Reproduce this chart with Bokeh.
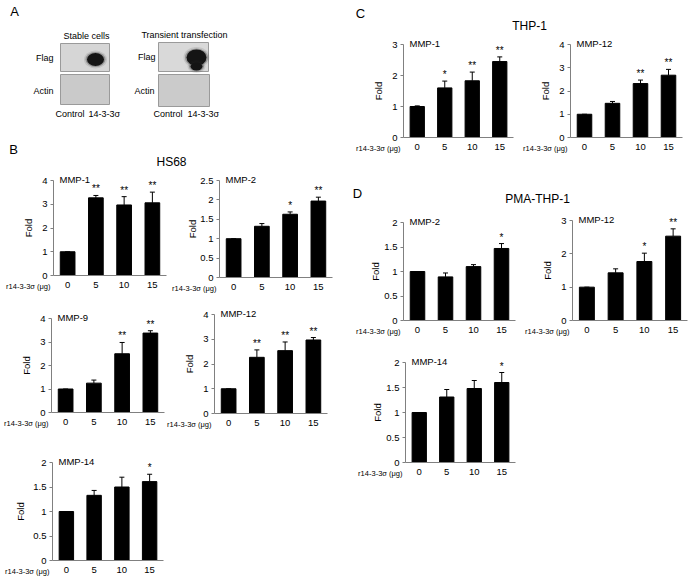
from bokeh.plotting import figure
from bokeh.layouts import row, column
from bokeh.models import Range1d, FixedTicker, CustomJSTickFormatter
from bokeh.core.properties import value
from bokeh.embed import file_html
from bokeh.resources import INLINE

FONT = "Liberation Sans"
AXIS_COLOR = "#808080"

# ---------------- data ----------------
DOSES = ["0", "5", "10", "15"]
X_TITLE = "r14-3-3σ (μg)"
Y_TITLE = "Fold"

# Panel B: HS68
hs68_mmp1 = [1.0, 3.27, 2.97, 3.06]
hs68_mmp1_err = [0.0, 0.10, 0.35, 0.45]
hs68_mmp1_sig = ["", "**", "**", "**"]

hs68_mmp2 = [1.0, 1.32, 1.63, 1.97]
hs68_mmp2_err = [0.0, 0.07, 0.06, 0.10]
hs68_mmp2_sig = ["", "", "*", "**"]

hs68_mmp9 = [1.0, 1.25, 2.50, 3.38]
hs68_mmp9_err = [0.0, 0.13, 0.48, 0.10]
hs68_mmp9_sig = ["", "", "**", "**"]

hs68_mmp12 = [1.0, 2.27, 2.54, 2.97]
hs68_mmp12_err = [0.0, 0.30, 0.35, 0.10]
hs68_mmp12_sig = ["", "**", "**", "**"]

hs68_mmp14 = [1.0, 1.33, 1.50, 1.61]
hs68_mmp14_err = [0.0, 0.10, 0.20, 0.15]
hs68_mmp14_sig = ["", "", "", "*"]

# Panel C: THP-1
thp1_mmp1 = [1.0, 1.60, 1.83, 2.45]
thp1_mmp1_err = [0.02, 0.22, 0.28, 0.15]
thp1_mmp1_sig = ["", "*", "**", "**"]

thp1_mmp12 = [1.0, 1.47, 2.32, 2.68]
thp1_mmp12_err = [0.0, 0.08, 0.15, 0.25]
thp1_mmp12_sig = ["", "", "**", "**"]

# Panel D: PMA-THP-1
pma_mmp2 = [1.0, 0.89, 1.10, 1.47]
pma_mmp2_err = [0.0, 0.08, 0.04, 0.10]
pma_mmp2_sig = ["", "", "", "*"]

pma_mmp12 = [1.0, 1.43, 1.77, 2.53]
pma_mmp12_err = [0.0, 0.12, 0.25, 0.22]
pma_mmp12_sig = ["", "", "*", "**"]

pma_mmp14 = [1.0, 1.31, 1.48, 1.60]
pma_mmp14_err = [0.0, 0.15, 0.16, 0.20]
pma_mmp14_sig = ["", "", "", "*"]


# ---------------- helpers ----------------
def chart(title, vals, errs, sig, ymax, ystep, w, h, L, R, T, B, fold_standoff=5):
    """w,h: canvas size; L: px from left edge to y-axis; R: px from x-axis end to right edge;
    T: px from top edge to ymax; B: px from y=0 to bottom edge."""
    n = len(DOSES)
    xs = [i + 1 for i in range(n)]
    sx = (w - L - R) / n
    sy = (h - T - B) / ymax
    p = figure(x_range=Range1d(0.5 - L / sx, n + 0.5 + R / sx),
               y_range=Range1d(-B / sy, ymax + T / sy),
               width=w, height=h, output_backend="svg", toolbar_location=None,
               min_border=0)
    p.outline_line_color = None
    p.grid.visible = False
    p.background_fill_color = "white"
    p.border_fill_color = "white"

    p.vbar(x=xs, top=vals, width=0.52, fill_color="black", line_color="black")
    tops = [v + e for v, e in zip(vals, errs)]
    p.segment(x0=xs, y0=vals, x1=xs, y1=tops, line_color="black", line_width=1)
    p.scatter(x=xs, y=tops, marker="dash", size=5, line_color="black", line_width=1)
    p.text(x=xs, y=tops, text=sig, text_align="center", text_baseline="bottom",
           text_font=value(FONT), text_font_size=value("10px"), y_offset=-1,
           text_color="black")

    yax = p.yaxis[0]
    k = int(round(ymax / ystep))
    yax.fixed_location = 0.5
    yax.bounds = (0, ymax)
    yax.ticker = FixedTicker(ticks=[i * ystep for i in range(k + 1)], minor_ticks=[])
    yax.formatter = CustomJSTickFormatter(code="return String(Math.round(tick*10)/10);")
    yax.axis_line_color = AXIS_COLOR
    yax.major_tick_line_color = AXIS_COLOR
    yax.major_tick_out = 3
    yax.major_tick_in = 0
    yax.minor_tick_line_color = None
    yax.major_label_text_font = FONT
    yax.major_label_text_font_size = "9.5px"
    yax.major_label_text_color = "black"
    yax.major_label_standoff = 3
    yax.axis_label = Y_TITLE
    yax.axis_label_text_font = FONT
    yax.axis_label_text_font_size = "9.5px"
    yax.axis_label_text_font_style = "normal"
    yax.axis_label_text_color = "black"
    yax.axis_label_standoff = fold_standoff

    xax = p.xaxis[0]
    xax.fixed_location = 0
    xax.bounds = (0.5, n + 0.5)
    xax.ticker = FixedTicker(ticks=xs, minor_ticks=[])
    xax.major_label_overrides = {x: d for x, d in zip(xs, DOSES)}
    xax.axis_line_color = AXIS_COLOR
    xax.major_tick_line_color = None
    xax.major_tick_out = 0
    xax.major_tick_in = 0
    xax.minor_tick_line_color = None
    xax.major_label_text_font = FONT
    xax.major_label_text_font_size = "9.5px"
    xax.major_label_text_color = "black"
    xax.major_label_standoff = 6

    # x-title left of the y-axis, on the level of the dose labels
    p.text(x=[0.5], y=[0], text=[X_TITLE], x_offset=-3, y_offset=11,
           text_align="right", text_baseline="middle",
           text_font=value(FONT), text_font_size=value("7.5px"), text_color="black")
    # chart title at the top of the y-axis
    p.text(x=[0.5], y=[ymax], text=[title], x_offset=6, y_offset=-1,
           text_align="left", text_baseline="middle",
           text_font=value(FONT), text_font_size=value("9.5px"), text_color="black")
    return p


def canvas(x0, x1, y0, y1):
    p = figure(x_range=Range1d(x0, x1), y_range=Range1d(y1, y0),
               width=x1 - x0, height=y1 - y0, output_backend="svg",
               toolbar_location=None, x_axis_type=None, y_axis_type=None,
               min_border=0)
    p.outline_line_color = None
    p.grid.visible = False
    return p


def txt(p, x, y, s, size, align="left"):
    p.text(x=[x], y=[y], text=[s], text_font=value(FONT), text_font_size=value(size),
           text_align=align, text_baseline="middle", text_color="black")


# ---------------- panel A (blots) + B header ----------------
pa = canvas(0, 340, 0, 168)
txt(pa, 14, 11, "A", "13px", "center")
txt(pa, 86, 35, "Stable cells", "9px", "center")
txt(pa, 184, 34, "Transient transfection", "9px", "center")

# blot boxes: (left, right, top, bottom, fill)
boxes = [(60, 109, 43, 71, "#d6d6d6"), (60, 109, 74, 104, "#cacaca"),
         (158, 208, 42, 71, "#d9d9d9"), (158, 209, 74, 106, "#cbcbcb")]
for l, r, t, b, c in boxes:
    pa.quad(left=[l], right=[r], top=[t], bottom=[b], fill_color=c,
            line_color="#9a9a9a", line_width=1)
# bands (soft smudges)
for (cx, cy, bw, bh) in [(95, 59, 17, 13), (196, 57, 20, 16), (196, 66, 12, 8)]:
    pa.ellipse(x=[cx], y=[cy], width=[bw + 6], height=[bh + 5], fill_color="#333333",
               fill_alpha=0.12, line_color=None)
    pa.ellipse(x=[cx], y=[cy], width=[bw + 3], height=[bh + 2], fill_color="#222222",
               fill_alpha=0.3, line_color=None)
    pa.ellipse(x=[cx], y=[cy], width=[bw], height=[bh], fill_color="#141414",
               line_color=None)

txt(pa, 53, 57, "Flag", "9px", "right")
txt(pa, 53, 90, "Actin", "9px", "right")
txt(pa, 155, 56, "Flag", "9px", "right")
txt(pa, 154, 90, "Actin", "9px", "right")
txt(pa, 55, 113, "Control", "9px")
txt(pa, 88, 113, "14-3-3σ", "9px")
txt(pa, 153, 113, "Control", "9px")
txt(pa, 187, 113, "14-3-3σ", "9px")
txt(pa, 13, 149, "B", "13px", "center")
txt(pa, 171, 161, "HS68", "12px", "center")

# ---------------- panel B charts ----------------
b1 = chart("MMP-1", hs68_mmp1, hs68_mmp1_err, hs68_mmp1_sig, 4, 1, 168, 132, 53, 2, 12, 25)
b2 = chart("MMP-2", hs68_mmp2, hs68_mmp2_err, hs68_mmp2_sig, 2.5, 0.5, 172, 132, 51, 8, 12, 23,
           fold_standoff=-1)
b3 = chart("MMP-9", hs68_mmp9, hs68_mmp9_err, hs68_mmp9_sig, 4, 1, 166, 140, 51, 2, 18, 28)
b4 = chart("MMP-12", hs68_mmp12, hs68_mmp12_err, hs68_mmp12_sig, 4, 1, 174, 140, 48, 13, 14, 27)
b5 = chart("MMP-14", hs68_mmp14, hs68_mmp14_err, hs68_mmp14_sig, 2, 0.5, 170, 136, 52, 7, 22, 16,
           fold_standoff=4)

# ---------------- panel C / D headers ----------------
pc = canvas(340, 695, 0, 32)
txt(pc, 360, 13, "C", "13px", "center")
txt(pc, 529, 25, "THP-1", "12px", "center")

pd = canvas(340, 695, 172, 212)
txt(pd, 357, 193, "D", "13px", "center")
txt(pd, 537, 198, "PMA-THP-1", "12px", "center")

c1 = chart("MMP-1", thp1_mmp1, thp1_mmp1_err, thp1_mmp1_sig, 3, 1, 178, 140, 63, 5, 12, 35)
c2 = chart("MMP-12", thp1_mmp12, thp1_mmp12_err, thp1_mmp12_sig, 4, 1, 177, 140, 52, 13, 12, 35)

d1 = chart("MMP-2", pma_mmp2, pma_mmp2_err, pma_mmp2_sig, 2, 0.5, 178, 133, 63, 3, 10, 25,
           fold_standoff=0)
d2 = chart("MMP-12", pma_mmp12, pma_mmp12_err, pma_mmp12_sig, 3, 1, 177, 133, 54, 8, 8, 25)
d3 = chart("MMP-14", pma_mmp14, pma_mmp14_err, pma_mmp14_sig, 2, 0.5, 178, 145, 65, 3, 17, 28,
           fold_standoff=0)

left = column(pa, row(b1, b2), row(b3, b4), b5)
right = column(pc, row(c1, c2), pd, row(d1, d2), d3)
layout = row(left, right)

open("out.html", "w").write(file_html(layout, INLINE))
